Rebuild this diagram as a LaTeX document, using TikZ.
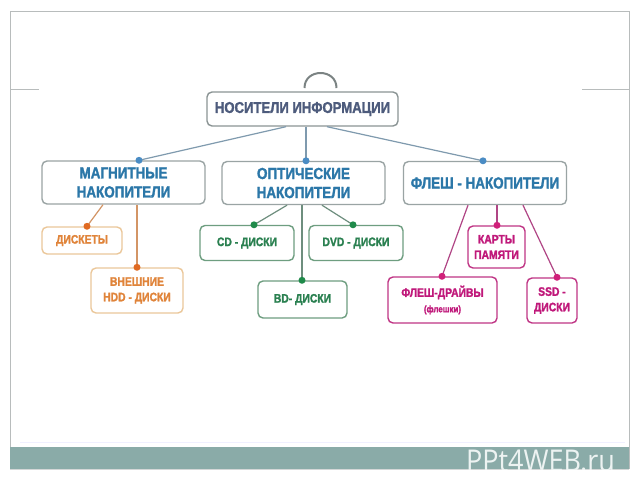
\documentclass[tikz,border=0pt]{standalone}
\usepackage{fontspec}
\newfontfamily\cf[FakeStretch=0.84,FakeBold=1.6]{Liberation Sans Bold}
\newfontfamily\wm[FakeStretch=0.9]{Open Sans}
\definecolor{rootc}{HTML}{4D5B7C}
\definecolor{bluec}{HTML}{2B77A8}
\definecolor{bluedot}{HTML}{4A8CC4}
\definecolor{graybd}{HTML}{9AA4A4}
\definecolor{topline}{HTML}{7F9AAE}
\definecolor{orc}{HTML}{E0843A}
\definecolor{ordot}{HTML}{E06A22}
\definecolor{orbd}{HTML}{EBC79A}
\definecolor{orline}{HTML}{D39566}
\definecolor{grc}{HTML}{2A8050}
\definecolor{grdot}{HTML}{1F8A4A}
\definecolor{grbd}{HTML}{6E9E80}
\definecolor{grline}{HTML}{6E8E7E}
\definecolor{mgc}{HTML}{C0187A}
\definecolor{mgdot}{HTML}{D0207A}
\definecolor{mgbd}{HTML}{C03585}
\definecolor{mgline}{HTML}{B04585}
\definecolor{barc}{HTML}{8AABA8}
\definecolor{framec}{HTML}{B8BCBC}
\tikzset{
  box/.style={draw, rounded corners=5pt, line width=1.4pt, fill=white, align=center, inner sep=0pt, font=\cf},
  rootbox/.style={box, draw=graybd!90!black, text=rootc, font=\cf\fontsize{15.6}{16}\selectfont},
  lvlbox/.style={box, draw=graybd, text=bluec, font=\cf\fontsize{16}{19}\selectfont},
  lowbox/.style={box, font=\cf\fontsize{12.3}{15.5}\selectfont},
  orbox/.style={lowbox, draw=orbd, text=orc},
  grbox/.style={lowbox, draw=grbd, text=grc},
  mgbox/.style={lowbox, draw=mgbd, text=mgc},
  conn/.style={line width=1.2pt},
}
\begin{document}
\begin{tikzpicture}[x=1pt,y=-1pt]
\useasboundingbox (0,0) rectangle (640,480);
\fill[white] (0,0) rectangle (640,480);
% slide frame
\draw[framec, line width=0.8pt] (10,469) -- (10,11) -- (629,11) -- (629,469);
\draw[framec, line width=0.8pt] (10,89) -- (39,89);
\draw[framec, line width=0.8pt] (582,89) -- (629,89);
\draw[blue!6, line width=1pt] (20,442) -- (625,442);
\fill[barc] (10,447) rectangle (629,469);
\draw[framec!60, line width=0.6pt] (10,469.5) -- (629,469.5);
\begin{scope}
\clip (10,440) rectangle (629,469);
\node[anchor=base west, inner sep=0pt, text=white!85!barc, font=\wm\fontsize{30}{30}\selectfont] (wmk) at (466,471) {PPt4WEB.ru};
\end{scope}

% nodes
\node[rootbox, minimum width=191pt, minimum height=34pt] (root) at (302.5,109) {НОСИТЕЛИ ИНФОРМАЦИИ};
\node[lvlbox, minimum width=163pt, minimum height=43pt] (mag) at (123.5,182.5) {МАГНИТНЫЕ\\НАКОПИТЕЛИ};
\node[lvlbox, minimum width=163pt, minimum height=43pt] (opt) at (303.5,183) {ОПТИЧЕСКИЕ\\НАКОПИТЕЛИ};
\node[lvlbox, minimum width=163pt, minimum height=43pt] (fl) at (485,183) {ФЛЕШ - НАКОПИТЕЛИ};

\node[orbox, minimum width=80pt, minimum height=27pt] (dk) at (82,240.5) {ДИСКЕТЫ};
\node[orbox, minimum width=92pt, minimum height=45pt] (hdd) at (137,290.5) {ВНЕШНИЕ\\HDD - ДИСКИ};

\node[grbox, minimum width=94pt, minimum height=35pt] (cd) at (247,243) {CD - ДИСКИ};
\node[grbox, minimum width=94pt, minimum height=35pt] (dvd) at (356,243) {DVD - ДИСКИ};
\node[grbox, minimum width=89pt, minimum height=37pt] (bd) at (302.5,299.5) {BD- ДИСКИ};

\node[mgbox, minimum width=57pt, minimum height=42pt] (mc) at (496.5,247) {КАРТЫ\\ПАМЯТИ};
\node[mgbox, minimum width=109pt, minimum height=46pt] (fd) at (442.5,300) {ФЛЕШ-ДРАЙВЫ\\{\fontsize{9.5}{10}\selectfont(флешки)}};
\node[mgbox, minimum width=50pt, minimum height=45pt] (ssd) at (552,300.5) {SSD -\\ДИСКИ};

% handle on root
\coordinate (hl) at (304.5,88);
\coordinate (hr) at (336.5,88);
\draw[graybd!80!black, line width=2pt] (hl) .. controls (304.5,68) and (336.5,68) .. (hr);

% dot positions
\coordinate (magd) at (139,0 |- mag.north);
\coordinate (optd) at (306,0 |- opt.north);
\coordinate (fld) at (483,0 |- fl.north);
\coordinate (dkd) at (87,0 |- dk.north);
\coordinate (hddd) at (137,0 |- hdd.north);
\coordinate (cdd) at (254,0 |- cd.north);
\coordinate (dvdd) at (353,0 |- dvd.north);
\coordinate (bdd) at (302,0 |- bd.north);
\coordinate (mcd) at (497,0 |- mc.north);
\coordinate (fdd) at (442,0 |- fd.north);
\coordinate (ssdd) at (557,0 |- ssd.north);

% connectors
\draw[conn, topline] (286,0 |- root.south) -- (magd);
\draw[conn, topline] (306,0 |- root.south) -- (optd);
\draw[conn, topline] (327,0 |- root.south) -- (fld);
\draw[conn, orline] (103,0 |- mag.south) -- (dkd);
\draw[conn, orline] (137,0 |- mag.south) -- (hddd);
\draw[conn, grline] (287,0 |- opt.south) -- (cdd);
\draw[conn, grline] (322,0 |- opt.south) -- (dvdd);
\draw[conn, grline] (302,0 |- opt.south) -- (bdd);
\draw[conn, mgline] (468,0 |- fl.south) -- (fdd);
\draw[conn, mgline] (497,0 |- fl.south) -- (mcd);
\draw[conn, mgline] (523,0 |- fl.south) -- (ssdd);

% dots
\foreach \d/\c in {magd/bluedot,optd/bluedot,fld/bluedot,dkd/ordot,hddd/ordot,cdd/grdot,dvdd/grdot,bdd/grdot,mcd/mgdot,fdd/mgdot,ssdd/mgdot}{
  \fill[\c] (\d) circle (3.5pt);
}
\end{tikzpicture}
\end{document}
